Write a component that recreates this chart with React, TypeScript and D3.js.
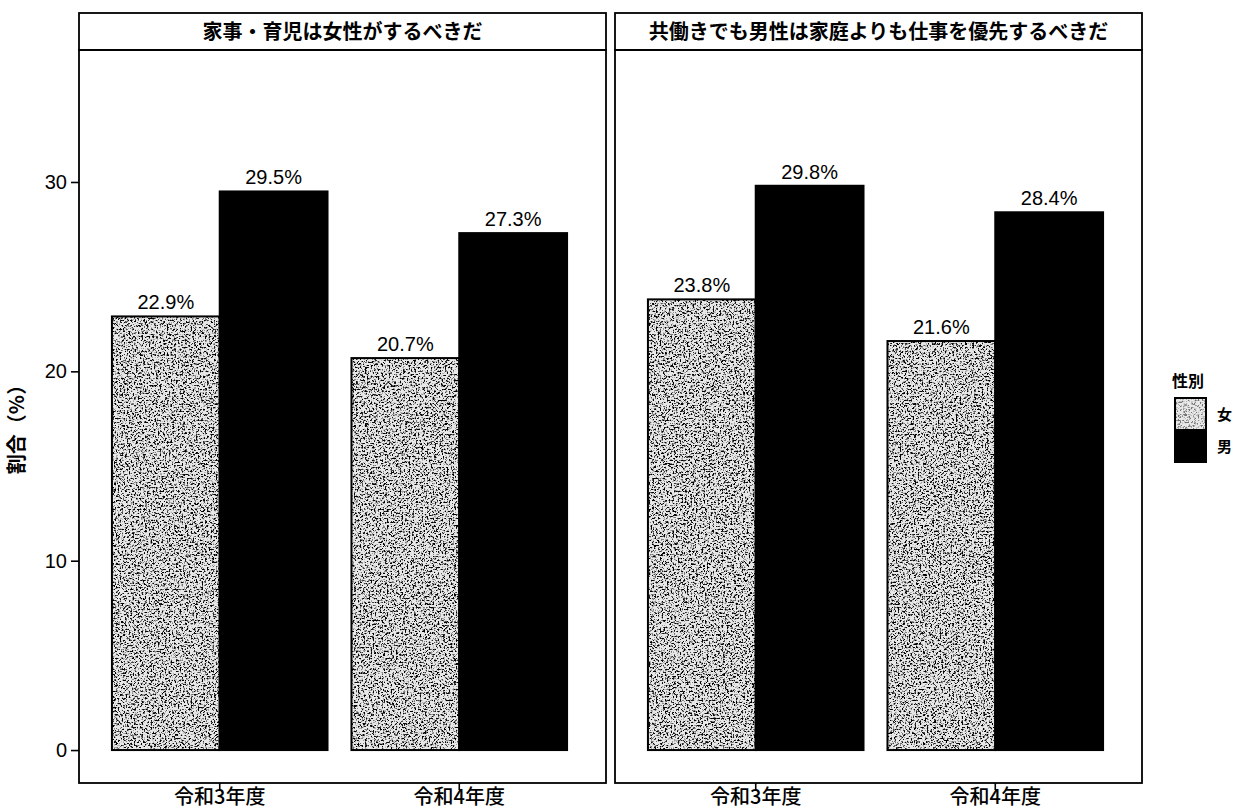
import { useEffect, useRef } from 'react';
import * as d3 from 'd3';

// facet titles, categories and values
const panelTitles = ['家事・育児は女性がするべきだ', '共働きでも男性は家庭よりも仕事を優先するべきだ'];
const years = ['令和3年度', '令和4年度'];
const sexes = ['女', '男'];
const femaleValues = [[22.9, 20.7], [23.8, 21.6]];
const maleValues = [[29.5, 27.3], [29.8, 28.4]];
const yTicks = [0, 10, 20, 30];

const width = 1235;
const height = 812;
const panelLefts = [79, 615];
const panelWidth = 527;
const stripTop = 13;
const stripHeight = 37;
const panelTop = stripTop + stripHeight;
const panelBottom = 783;

const jpFont = '"Noto Sans CJK JP", "Noto Sans", sans-serif';
const numFont = '"Liberation Sans", Arial, sans-serif';

export default function App() {
  const gy = useRef<SVGGElement>(null);

  const y = d3.scaleLinear().domain([-1.74, 36.97]).range([panelBottom, panelTop]);

  useEffect(() => {
    if (gy.current) {
      const g = d3.select(gy.current);
      g.call(d3.axisLeft(y).tickValues(yTicks).tickSize(8).tickPadding(4));
      g.select('.domain').remove();
      g.selectAll('.tick line').attr('stroke', '#000').attr('stroke-width', 1.6);
      g.selectAll('.tick text')
        .attr('fill', '#000')
        .style('font-family', numFont)
        .style('font-size', '20px');
    }
  }, [y]);

  const barWidth = 0.45;

  return (
    <svg width={width} height={height} style={{ position: 'absolute', left: 0, top: 0, background: '#fff' }}>
      <defs>
        {/* scanned-halftone look for the light bars */}
        <filter id="grain" x="0" y="0" width="1" height="1">
          <feTurbulence type="fractalNoise" baseFrequency="0.55" numOctaves="5" seed="11" result="n" />
          <feColorMatrix in="n" type="matrix" values="0 0 0 0 0  0 0 0 0 0  0 0 0 0 0  6 0 0 0 -3.05" />
        </filter>
      </defs>

      {panelTitles.map((title, p) => {
        const left = panelLefts[p];
        const x = d3.scaleLinear().domain([0.4, 2.6]).range([left - 3, left + panelWidth - 3]);
        return (
          <g key={p}>
            {/* strip */}
            <rect x={left} y={stripTop} width={panelWidth} height={stripHeight}
              fill="#fff" stroke="#000" strokeWidth={1.8} />
            <text x={left + panelWidth / 2} y={stripTop + stripHeight / 2 + 7} textAnchor="middle"
              style={{ fontFamily: jpFont, fontSize: 20, fontWeight: 'bold' }}>{title}</text>

            {years.map((yr, i) => {
              const c = i + 1;
              const f = femaleValues[p][i];
              const m = maleValues[p][i];
              return (
                <g key={yr}>
                  <rect x={x(c - barWidth)} y={y(f)} width={x(c) - x(c - barWidth)} height={y(0) - y(f)} fill="#e8e8e8" />
                  <rect x={x(c - barWidth)} y={y(f)} width={x(c) - x(c - barWidth)} height={y(0) - y(f)} fill="#000" filter="url(#grain)" />
                  <rect x={x(c - barWidth)} y={y(f)} width={x(c) - x(c - barWidth)} height={y(0) - y(f)} fill="none" stroke="#000" strokeWidth={2} />
                  <rect x={x(c)} y={y(m)} width={x(c + barWidth) - x(c)} height={y(0) - y(m)} fill="#000" stroke="#000" strokeWidth={2} />
                  <text x={x(c - barWidth / 2)} y={y(f) - 7} textAnchor="middle"
                    style={{ fontFamily: numFont, fontSize: 20 }}>{f.toFixed(1)}%</text>
                  <text x={x(c + barWidth / 2)} y={y(m) - 7} textAnchor="middle"
                    style={{ fontFamily: numFont, fontSize: 20 }}>{m.toFixed(1)}%</text>
                  {/* x tick + label */}
                  <line x1={x(c)} x2={x(c)} y1={panelBottom} y2={panelBottom + 7} stroke="#000" strokeWidth={1.6} />
                  <text x={x(c)} y={panelBottom + 21} textAnchor="middle"
                    style={{ fontFamily: jpFont, fontSize: 20, fontWeight: 500 }}>{yr}</text>
                </g>
              );
            })}

            <rect x={left} y={panelTop} width={panelWidth} height={panelBottom - panelTop}
              fill="none" stroke="#000" strokeWidth={1.8} />
          </g>
        );
      })}

      <g ref={gy} transform={`translate(${panelLefts[0]},0)`}></g>

      <text transform={`translate(24,${(panelTop + panelBottom) / 2 + 8}) rotate(-90)`} textAnchor="middle"
        style={{ fontFamily: jpFont, fontSize: 20, fontWeight: 'bold' }}>割合（%）</text>

      {/* legend */}
      <text x={1172} y={387} style={{ fontFamily: jpFont, fontSize: 16, fontWeight: 'bold' }}>性別</text>
      {sexes.map((s, i) => {
        const ky = 398 + i * 32;
        return (
          <g key={s}>
            {i === 0 ? (
              <>
                <rect x={1175} y={ky} width={31} height={32} fill="#e8e8e8" />
                <rect x={1175} y={ky} width={31} height={32} fill="#000" filter="url(#grain)" opacity={0.5} />
              </>
            ) : (
              <rect x={1175} y={ky} width={31} height={32} fill="#000" />
            )}
            <rect x={1175} y={ky} width={31} height={32} fill="none" stroke="#000" strokeWidth={2} />
            <text x={1217} y={ky + 22} style={{ fontFamily: jpFont, fontSize: 15, fontWeight: 'bold' }}>{s}</text>
          </g>
        );
      })}
    </svg>
  );
}
